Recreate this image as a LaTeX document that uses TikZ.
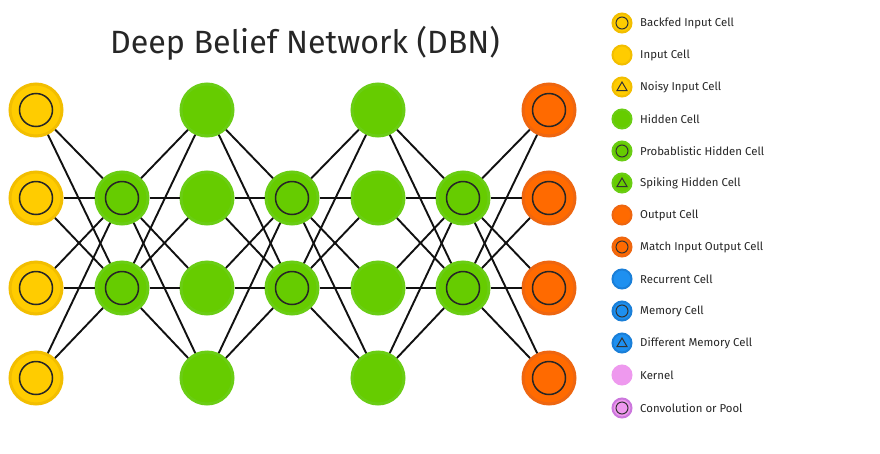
\documentclass[tikz,border=0pt]{standalone}
\usepackage{fontspec}
\setmainfont{Fira Sans}
\newfontfamily\titlefont{Fira Sans}
\definecolor{yin}{HTML}{FFCC00}
\definecolor{yout}{HTML}{F2BE00}
\definecolor{gin}{HTML}{66CC00}
\definecolor{gout}{HTML}{6ACD14}
\definecolor{oin}{HTML}{FF6A00}
\definecolor{oout}{HTML}{EE6610}
\definecolor{bin}{HTML}{1E90F0}
\definecolor{bout}{HTML}{1A7FD8}
\definecolor{pin}{HTML}{EE99EE}
\definecolor{pout}{HTML}{CC77DD}
\definecolor{edgec}{HTML}{111111}
\tikzset{
  cell/.style={circle, minimum size=52pt, inner sep=0pt, line width=3pt},
  ringed/.style={path picture={\draw[line width=1.5pt,black!85] (path picture bounding box.center) circle (16.5pt);}},
  incell/.style={cell, fill=yin, draw=yout, ringed},
  hidcell/.style={cell, fill=gin, draw=gout},
  probcell/.style={cell, fill=gin, draw=gout, ringed},
  outcell/.style={cell, fill=oin, draw=oout, ringed},
  conn/.style={edgec, line width=1.9pt},
  leg/.style={circle, minimum size=19pt, inner sep=0pt, line width=2pt},
  legring/.style={path picture={\draw[line width=1pt,black!80] (path picture bounding box.center) circle (6pt);}},
  legtri/.style={path picture={\draw[line width=1pt,black!80] ($(path picture bounding box.center)+(0,5pt)$) -- ++(-5pt,-8.5pt) -- ++(10pt,0) -- cycle;}},
  legtext/.style={anchor=west, inner sep=0pt, font=\fontsize{11.4}{13}\selectfont, text=black!85}
}
\usetikzlibrary{calc}
\begin{document}
\begin{tikzpicture}[x=1pt,y=-1pt]
\useasboundingbox (0,0) rectangle (880,453);
\fill[white] (0,0) rectangle (880,453);
\node[font=\titlefont\fontsize{32.2}{36}\selectfont, text=black!85] (title) at (305,43) {Deep Belief Network (DBN)};
% layers
\foreach \i/\y in {1/110,2/198,3/288,4/378}{
  \node[incell] (a\i) at (36,\y) {};
  \node[hidcell] (c\i) at (207,\y) {};
  \node[hidcell] (e\i) at (378,\y) {};
  \node[outcell] (g\i) at (549,\y) {};
}
\foreach \i/\y in {1/198,2/288}{
  \node[probcell] (b\i) at (122,\y) {};
  \node[probcell] (d\i) at (292,\y) {};
  \node[probcell] (f\i) at (463,\y) {};
}
\foreach \i in {1,...,4}{
  \foreach \j in {1,2}{
    \draw[conn] (a\i) -- (b\j);
    \draw[conn] (b\j) -- (c\i);
    \draw[conn] (c\i) -- (d\j);
    \draw[conn] (d\j) -- (e\i);
    \draw[conn] (e\i) -- (f\j);
    \draw[conn] (f\j) -- (g\i);
  }
}
% legend
\node[leg, fill=yin, draw=yout, legring] (l1) at (622,23) {};
\node[leg, fill=yin, draw=yout] (l2) at (622,55) {};
\node[leg, fill=yin, draw=yout, legtri] (l3) at (622,87) {};
\node[leg, fill=gin, draw=gout] (l4) at (622,119) {};
\node[leg, fill=gin, draw=gout, legring] (l5) at (622,151) {};
\node[leg, fill=gin, draw=gout, legtri] (l6) at (622,183) {};
\node[leg, fill=oin, draw=oout] (l7) at (622,215) {};
\node[leg, fill=oin, draw=oout, legring] (l8) at (622,247) {};
\node[leg, fill=bin, draw=bout] (l9) at (622,279) {};
\node[leg, fill=bin, draw=bout, legring] (l10) at (622,311) {};
\node[leg, fill=bin, draw=bout, legtri] (l11) at (622,343) {};
\node[leg, fill=pin, draw=pin] (l12) at (622,375) {};
\node[leg, fill=pin, draw=pout, legring] (l13) at (622,408) {};
\node[legtext] (t1) at (640,23) {Backfed Input Cell};
\node[legtext] (t2) at (640,55) {Input Cell};
\node[legtext] (t3) at (640,87) {Noisy Input Cell};
\node[legtext] (t4) at (640,119) {Hidden Cell};
\node[legtext] (t5) at (640,151) {Probablistic Hidden Cell};
\node[legtext] (t6) at (640,183) {Spiking Hidden Cell};
\node[legtext] (t7) at (640,215) {Output Cell};
\node[legtext] (t8) at (640,247) {Match Input Output Cell};
\node[legtext] (t9) at (640,279) {Recurrent Cell};
\node[legtext] (t10) at (640,311) {Memory Cell};
\node[legtext] (t11) at (640,343) {Different Memory Cell};
\node[legtext] (t12) at (640,375) {Kernel};
\node[legtext] (t13) at (640,408) {Convolution or Pool};
\end{tikzpicture}
\end{document}
